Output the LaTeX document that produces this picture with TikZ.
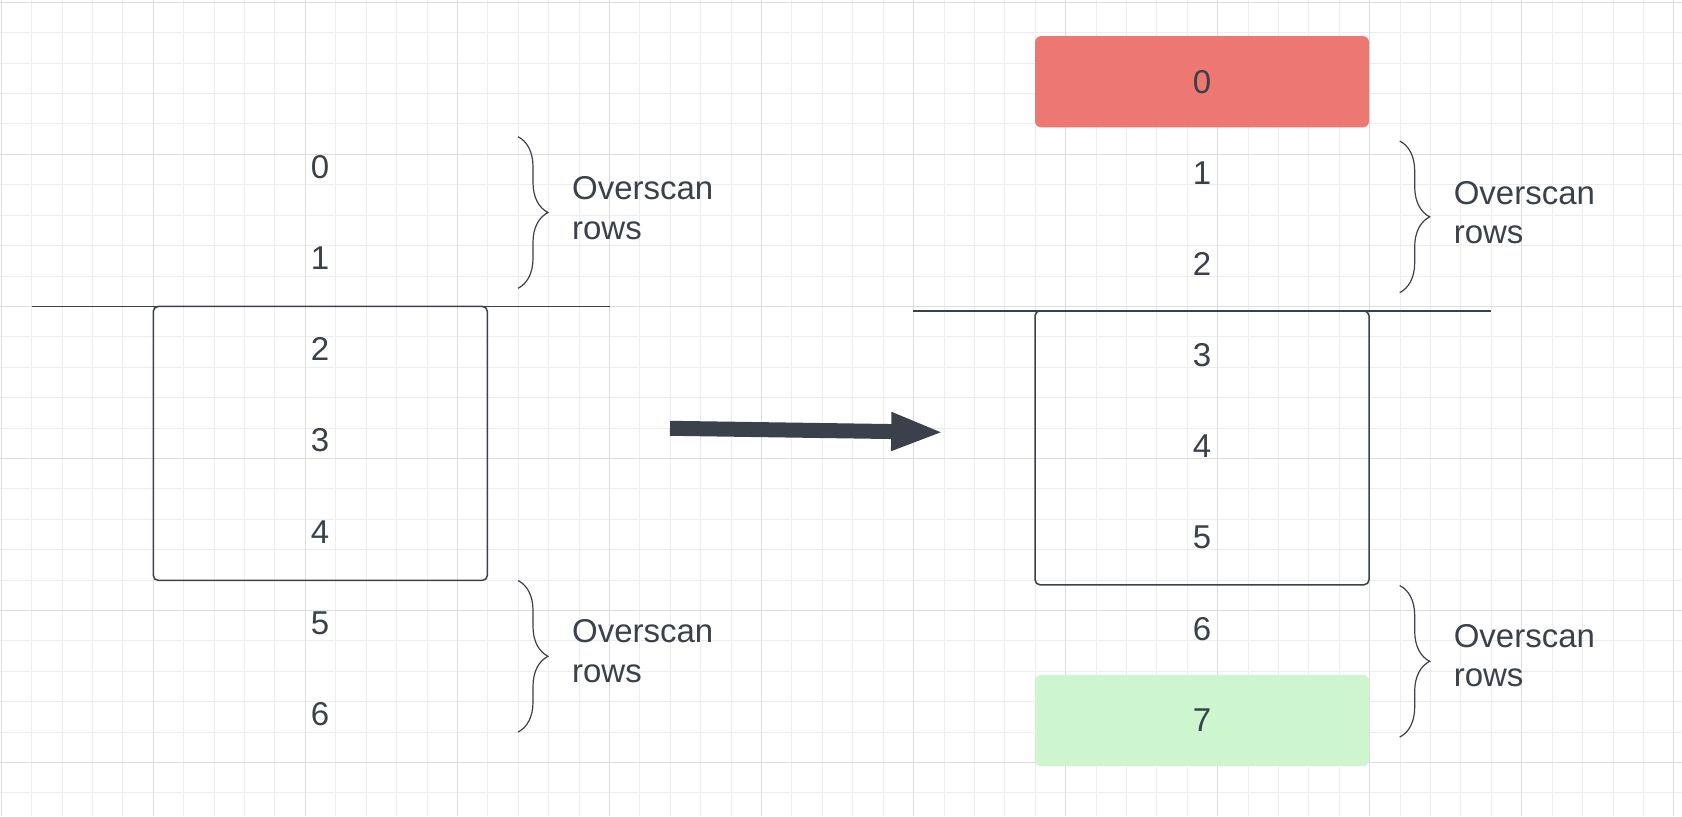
\documentclass[tikz,border=0pt]{standalone}
\usepackage{fontspec}
\setmainfont{Liberation Sans}
\usetikzlibrary{arrows.meta,decorations.pathreplacing}

\definecolor{inkgray}{HTML}{3A414A}
\definecolor{gridminor}{HTML}{EDEDED}
\definecolor{gridmajor}{HTML}{DCDCDC}
\definecolor{droprow}{HTML}{ED7771}
\definecolor{newrow}{HTML}{CDF5CE}
\newcommand{\rowfont}{\fontsize{16.5}{19.65}\selectfont}

\tikzset{
    rowlabel/.style={inner sep=0pt,text=inkgray,font=\rowfont},
    viewbox/.style={draw=inkgray,line width=0.75pt,rounded corners=2.5pt,inner sep=0pt,minimum width=167pt,minimum height=137pt},
    rowfill/.style={rounded corners=3pt,inner sep=0pt,minimum width=167pt,minimum height=45.6pt,text=inkgray,font=\rowfont},
    overscan/.style={decorate,decoration={brace,amplitude=15pt},draw=inkgray,line width=0.6pt},
    note/.style={anchor=west,align=left,inner sep=0pt,text=inkgray,font=\rowfont}
}

\begin{document}
\begin{tikzpicture}[x=0.5pt,y=-0.5pt]
    \useasboundingbox[fill=white] (0,0) rectangle (1682,816);

    % grid
    \foreach \i in {0,...,55}
        \draw[gridminor,line width=0.5pt] ({1.3+30.41*\i},0) -- ({1.3+30.41*\i},816);
    \foreach \j in {0,...,26}
        \draw[gridminor,line width=0.5pt] (0,{2.3+30.41*\j}) -- (1682,{2.3+30.41*\j});
    \foreach \i in {0,...,11}
        \draw[gridmajor,line width=0.5pt] ({1.3+152.05*\i},0) -- ({1.3+152.05*\i},816);
    \foreach \j in {0,...,5}
        \draw[gridmajor,line width=0.5pt] (0,{2.3+152.05*\j}) -- (1682,{2.3+152.05*\j});

    % before
    \node[viewbox] (lview) at (320.3,443.4) {};
    \draw[inkgray,line width=0.75pt] (32.3,306.4) -- (609.5,306.4);
    \node[rowlabel] (l0) at (320,167) {0};
    \node[rowlabel] (l1) at (320,258.2) {1};
    \node[rowlabel] (l2) at (320,349.4) {2};
    \node[rowlabel] (l3) at (320,440.6) {3};
    \node[rowlabel] (l4) at (320,531.8) {4};
    \node[rowlabel] (l5) at (320,623) {5};
    \node[rowlabel] (l6) at (320,714.2) {6};

    \coordinate (lbrace1a) at (518,136.7);
    \coordinate (lbrace1b) at (518,288.3);
    \coordinate (lbrace2a) at (518,580.5);
    \coordinate (lbrace2b) at (518,732.1);
    \draw[overscan] (lbrace1a) -- (lbrace1b);
    \draw[overscan] (lbrace2a) -- (lbrace2b);
    \node[note] (lnote1) at (571.7,208) {Overscan\\rows};
    \node[note] (lnote2) at (571.7,651) {Overscan\\rows};

    % shift
    \coordinate (shiftstart) at (670,428.3);
    \coordinate (shiftend) at (944,432.3);
    \draw[inkgray,line width=7.5pt,-{Triangle[length=26.4pt,width=17.4pt]}] (shiftstart) -- (shiftend);

    % after
    \node[viewbox] (rview) at (1202,447.8) {};
    \draw[inkgray,line width=0.75pt] (913,311) -- (1490.5,311);
    \node[rowfill,fill=droprow] (r0) at (1202,81.7) {0};
    \node[rowlabel] (r1) at (1202,172.8) {1};
    \node[rowlabel] (r2) at (1202,264) {2};
    \node[rowlabel] (r3) at (1202,355.2) {3};
    \node[rowlabel] (r4) at (1202,446.4) {4};
    \node[rowlabel] (r5) at (1202,537.6) {5};
    \node[rowlabel] (r6) at (1202,628.8) {6};
    \node[rowfill,fill=newrow] (r7) at (1202,720.5) {7};

    \coordinate (rbrace1a) at (1399.7,141);
    \coordinate (rbrace1b) at (1399.7,292.6);
    \coordinate (rbrace2a) at (1399.7,585.5);
    \coordinate (rbrace2b) at (1399.7,737.1);
    \draw[overscan] (rbrace1a) -- (rbrace1b);
    \draw[overscan] (rbrace2a) -- (rbrace2b);
    \node[note] (rnote1) at (1453.4,212.5) {Overscan\\rows};
    \node[note] (rnote2) at (1453.4,655.5) {Overscan\\rows};
\end{tikzpicture}
\end{document}
